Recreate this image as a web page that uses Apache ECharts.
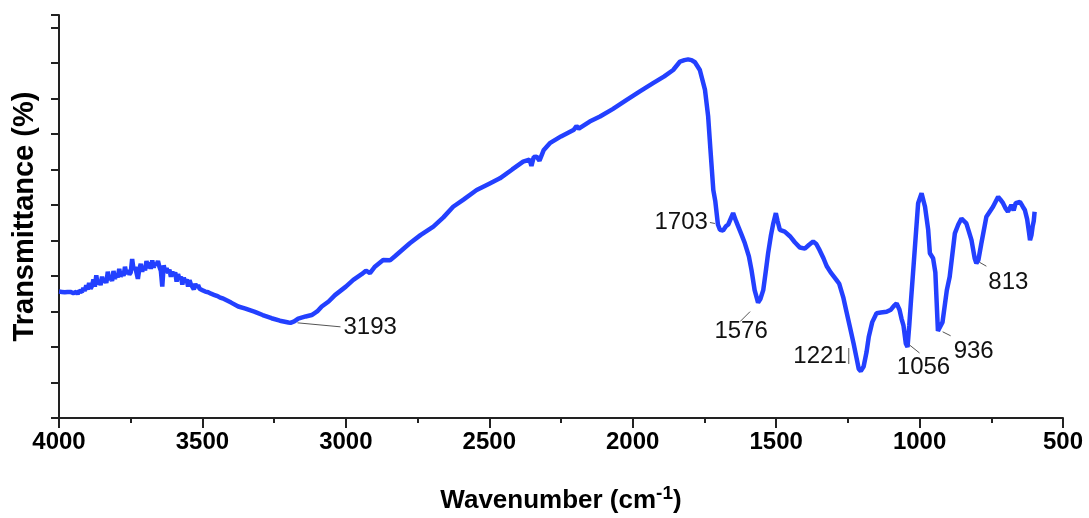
<!DOCTYPE html>
<html><head><meta charset="utf-8">
<script src="https://cdn.jsdelivr.net/npm/echarts@6/dist/echarts.min.js"></script>
<style>html,body{margin:0;padding:0;background:#fff}#c{width:1089px;height:518px}</style>
</head><body><div id="c"></div>
<script>
// Wavenumbers (cm-1) and transmittance (arbitrary units; y axis unlabeled)
const wavenumbers = [4000,3995,3990,3985,3980,3975,3970,3965,3960,3955,3950,3945,3940,3935,3930,3925,3920,3915,3910,3905,3900,3895,3890,3885,3880,3875,3870,3865,3860,3855,3850,3845,3840,3835,3830,3825,3820,3815,3810,3805,3800,3795,3790,3785,3780,3775,3770,3765,3760,3755,3750,3745,3740,3735,3730,3725,3720,3715,3710,3705,3700,3695,3690,3685,3680,3675,3670,3665,3660,3655,3650,3645,3640,3635,3630,3625,3620,3615,3610,3605,3600,3595,3590,3585,3580,3575,3570,3565,3560,3555,3550,3545,3540,3535,3530,3525,3520,3515,3510,3505,3500,3495,3490,3485,3480,3475,3470,3465,3460,3455,3450,3445,3440,3430,3400,3375,3350,3317,3290,3259,3230,3200,3193,3180,3166,3140,3119,3100,3084,3060,3038,3000,2974,2945,2930,2916,2900,2870,2846,2830,2800,2777,2740,2695,2660,2626,2590,2544,2500,2463,2420,2382,2360,2353,2345,2335,2325,2310,2289,2250,2205,2196,2188,2150,2114,2070,2021,1975,1929,1890,1859,1835,1820,1807,1795,1783,1766,1748,1737,1729,1719,1712,1703,1696,1685,1675,1667,1650,1640,1632,1620,1609,1595,1586,1575,1563,1555,1545,1535,1528,1518,1510,1501,1495,1487,1470,1452,1435,1417,1400,1385,1371,1360,1348,1335,1324,1310,1290,1280,1266,1255,1243,1230,1220,1212,1205,1195,1185,1177,1165,1150,1135,1115,1100,1090,1080,1070,1063,1056,1048,1042,1036,1030,1022,1005,993,981,970,964,953,945,936,930,920,905,895,877,865,854,837,828,819,808,802,795,785,767,744,726,718,709,700,692,680,672,665,650,640,633,625,618,615,610,606,602,599];
const transmittance = [3.56,3.57,3.55,3.58,3.54,3.56,3.55,3.53,3.55,3.51,3.52,3.50,3.55,3.49,3.58,3.63,3.55,3.66,3.58,3.74,3.62,3.80,3.64,3.72,3.90,3.70,4.02,3.76,3.88,3.74,3.98,3.82,3.93,3.80,4.12,3.88,3.98,3.86,4.14,3.92,4.06,3.96,4.20,3.98,4.10,4.00,4.26,4.05,4.16,4.04,4.10,4.48,4.18,4.25,4.10,3.92,4.20,4.34,4.12,4.28,4.16,4.42,4.22,4.38,4.20,4.44,4.24,4.36,4.30,4.42,4.26,4.15,3.70,4.30,4.12,4.22,4.08,4.18,3.98,4.12,4.00,4.10,3.84,4.05,3.92,3.98,3.76,3.95,3.84,3.90,3.70,3.88,3.76,3.80,3.62,3.78,3.68,3.74,3.64,3.66,3.60,3.64,3.56,3.60,3.54,3.56,3.50,3.52,3.47,3.48,3.44,3.42,3.40,3.37,3.25,3.14,3.08,2.99,2.90,2.81,2.74,2.69,2.68,2.72,2.80,2.86,2.90,3.00,3.14,3.28,3.46,3.70,3.89,4.05,4.15,4.08,4.25,4.45,4.44,4.55,4.76,4.92,5.15,5.39,5.65,5.95,6.15,6.42,6.60,6.75,7.00,7.22,7.28,7.10,7.35,7.36,7.25,7.55,7.74,7.93,8.12,8.22,8.15,8.35,8.49,8.70,8.96,9.20,9.43,9.62,9.80,10.04,10.08,10.10,10.08,10.02,9.80,9.24,8.49,7.55,6.42,6.10,5.45,5.30,5.28,5.40,5.45,5.77,5.55,5.39,5.15,4.92,4.55,4.17,3.60,3.25,3.35,3.60,4.20,4.64,5.15,5.48,5.77,5.55,5.30,5.25,5.12,4.95,4.80,4.77,4.88,4.97,4.90,4.72,4.50,4.28,4.10,3.89,3.78,3.40,3.00,2.57,2.10,1.70,1.38,1.32,1.45,1.85,2.29,2.70,2.95,2.97,2.99,3.05,3.15,3.23,3.05,2.80,2.60,2.10,2.00,2.60,3.30,4.17,6.05,6.33,5.95,5.30,4.64,4.50,4.10,2.45,2.40,2.70,3.60,3.98,5.20,5.45,5.62,5.48,5.25,5.01,4.50,4.36,4.45,4.90,5.67,5.95,6.23,6.15,6.05,5.90,5.81,6.00,5.85,6.05,6.09,5.95,5.86,5.60,5.20,5.01,5.15,5.39,5.55,5.81];
const xTicks = [4000,3500,3000,2500,2000,1500,1000,500];
// Peak labels: text, and wavenumber where the leader line touches the curve
const peakLabels = ['3193','1703','1576','1221','1056','936','813'];
const peakAt = [3193,1703,1563,1212,1042,930,802];
const peakVal = [2.68,5.45,3.25,1.38,2.00,2.40,4.36];
</script>
<script>
const FONT = "'Liberation Sans',Arial,sans-serif";
const chart = echarts.init(document.getElementById('c'), null, {renderer:'canvas'});
const data = wavenumbers.map((w,i)=>[w, transmittance[i]]);
chart.setOption({
  animation:false,
  backgroundColor:'#fff',
  grid:{left:59,right:26,top:15,bottom:100,containLabel:false,outerBoundsMode:'none'},
  xAxis:{
    type:'value', inverse:true, min:500, max:4000, interval:500,
    axisLine:{show:true,onZero:false,lineStyle:{color:'#222',width:2}},
    axisTick:{show:true,length:10,lineStyle:{color:'#222',width:2}},
    minorTick:{show:true,splitNumber:2,length:5,lineStyle:{color:'#222',width:2}},
    splitLine:{show:false},
    axisLabel:{color:'#000',fontFamily:FONT,fontWeight:'bold',fontSize:24,margin:12,
      formatter:v=>xTicks.includes(v)?String(v):''},
    name:'{a|Wavenumber (cm}{s|-1}{a|)}', nameLocation:'middle', nameGap:66,
    nameTextStyle:{rich:{
      a:{fontFamily:FONT,fontWeight:'bold',fontSize:26,color:'#000',verticalAlign:'bottom',lineHeight:30},
      s:{fontFamily:FONT,fontWeight:'bold',fontSize:19,color:'#000',verticalAlign:'top',padding:[0,0,14,0],lineHeight:30}
    }}
  },
  yAxis:{
    type:'value', min:0, max:11.35, interval:1,
    axisLine:{show:true,lineStyle:{color:'#222',width:2}},
    axisTick:{show:true,length:8,lineStyle:{color:'#222',width:2}},
    axisLabel:{show:false},
    splitLine:{show:false},
    name:'Transmittance (%)', nameLocation:'middle', nameGap:20, nameRotate:90,
    nameTextStyle:{fontFamily:FONT,fontWeight:'bold',fontSize:29,color:'#000'}
  },
  series:[{type:'line',data:data,showSymbol:false,symbol:'none',
    lineStyle:{color:'#2340ff',width:4.5},z:3}]
});
// leader line offsets (px) from anchor, text offsets & alignment
const labelStyle = [
  {l:[7,0,50,4], t:[53,5], align:'left'},
  {l:[-3,-1,-8,-2], t:[-10,-2], align:'right'},
  {l:[-8,9,-18,19], t:[-17,29], align:'center'},
  {l:[-10,-21,-10,-5], t:[-12,-13], align:'right'},
  {l:[2,-2,12,6], t:[16,20], align:'center'},
  {l:[3,-1,11,3], t:[14,19], align:'left'},
  {l:[3,-1,10,3], t:[12,19], align:'left'}
];
const g = [];
peakLabels.forEach((txt,i)=>{
  const p = chart.convertToPixel({seriesIndex:0},[peakAt[i], peakVal[i]]);
  const s = labelStyle[i];
  g.push({type:'line',shape:{x1:p[0]+s.l[0],y1:p[1]+s.l[1],x2:p[0]+s.l[2],y2:p[1]+s.l[3]},
    style:{stroke:'#555',lineWidth:1},z:10});
  g.push({type:'text',x:p[0]+s.t[0],y:p[1]+s.t[1],
    style:{text:txt,fill:'#111',font:"24px "+FONT,textAlign:s.align,textVerticalAlign:'middle'},z:10});
});
chart.setOption({graphic:g});
</script>
</body></html>
